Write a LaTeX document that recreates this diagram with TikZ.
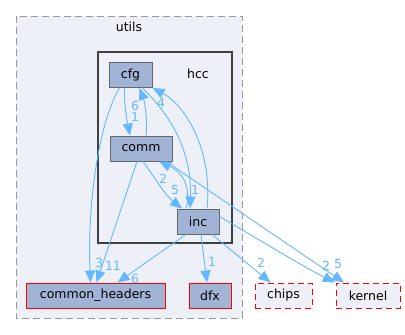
\documentclass[tikz,border=0pt]{standalone}
\usepackage{fontspec}
\setmainfont{DejaVu Sans}
\usetikzlibrary{arrows.meta,positioning}
\definecolor{clfill}{HTML}{EDF0F7}
\definecolor{nodefill}{HTML}{A2B4D6}
\definecolor{nodeline}{HTML}{666666}
\definecolor{dep}{HTML}{63B8FF}

\begin{document}
\begin{tikzpicture}[x=1pt,y=-1pt,
    font=\fontsize{12.5}{14}\selectfont,
    dir/.style={draw=nodeline, fill=nodefill, line width=0.9pt, minimum height=25pt, inner sep=0pt},
    ext/.style={draw=red, fill=clfill, dash pattern=on 6pt off 4pt, line width=1pt, minimum height=25pt, inner sep=0pt},
    edge/.style={dep, line width=0.9pt, -{Triangle[length=12pt,width=10pt]}},
    num/.style={text=dep, inner sep=0pt}]
   \useasboundingbox (0,0) rectangle (405,335);
   % clusters
   \draw[gray!80, fill=clfill, dash pattern=on 7pt off 4pt, line width=0.9pt] (16,16) rectangle (242,318);
   \node (utils) at (129,27) {utils};
   \draw[black!75, fill=clfill, line width=2pt] (98,52) rectangle (232,243);
   \node (hcc) at (198,74) {hcc};
   % directories
   \node[dir, minimum width=43pt] (cfg) at (130.5,75) {cfg};
   \node[dir, minimum width=62pt] (comm) at (141,148.5) {comm};
   \node[dir, minimum width=42pt] (inc) at (198,221.5) {inc};
   \node[dir, draw=red, minimum width=139pt] (hdr) at (95.5,295.5) {common\_headers};
   \node[dir, draw=red, minimum width=42pt] (dfx) at (210,295.5) {dfx};
   \node[ext, minimum width=57pt] (chips) at (283.5,295.5) {chips};
   \node[ext, minimum width=64pt] (kernel) at (368,295.5) {kernel};
   % dependencies
   \draw[edge] ([xshift=-6pt]cfg.south) .. controls (124,105) and (127,120) .. ([xshift=-11pt]comm.north);
   \draw[edge] ([xshift=5pt]comm.north) .. controls (148,118) and (144,100) .. ([xshift=9pt]cfg.south);
   \draw[edge] ([xshift=-11pt]cfg.south) .. controls (100,120) and (87,200) .. ([xshift=-5pt]hdr.north);
   \draw[edge] ([xshift=-4pt]comm.south) -- ([xshift=1pt]hdr.north);
   \draw[edge] ([xshift=-12pt]inc.north) .. controls (190,195) and (188,175) .. ([xshift=18pt]comm.south);
   \draw[edge] ([xshift=2pt]comm.south) .. controls (155,178) and (165,195) .. ([xshift=-16pt]inc.north);
   \draw[edge] ([xshift=12pt]cfg.south) .. controls (170,115) and (192,150) .. ([xshift=-8pt]inc.north);
   \draw[edge] ([xshift=9pt]inc.north) .. controls (213,150) and (185,105) .. (cfg.south east);
   \draw[edge] ([xshift=25pt]comm.south) -- ([xshift=-24pt]kernel.north);
   \draw[edge] ([yshift=5pt]inc.east) .. controls (260,240) and (300,265) .. ([xshift=-33pt]kernel.north);
   \draw[edge] ([xshift=14pt]inc.south) -- ([xshift=-13pt]chips.north);
   \draw[edge] ([xshift=3pt]inc.south) -- ([xshift=-3pt]dfx.north);
   \draw[edge] ([xshift=-12pt]inc.south) -- ([xshift=22pt]hdr.north);
   % counts
   \foreach \px/\py/\val in {135/106/6, 135/117/1, 99/263/3, 113/266/11, 135/279/6,
       161/103/4, 195/190/1, 175/190/5, 163/179/2, 338/264/5, 326/266/2,
       261/263/2, 212/262/1}{
     \node[num] at (\px,\py) {\val};}
\end{tikzpicture}
\end{document}
